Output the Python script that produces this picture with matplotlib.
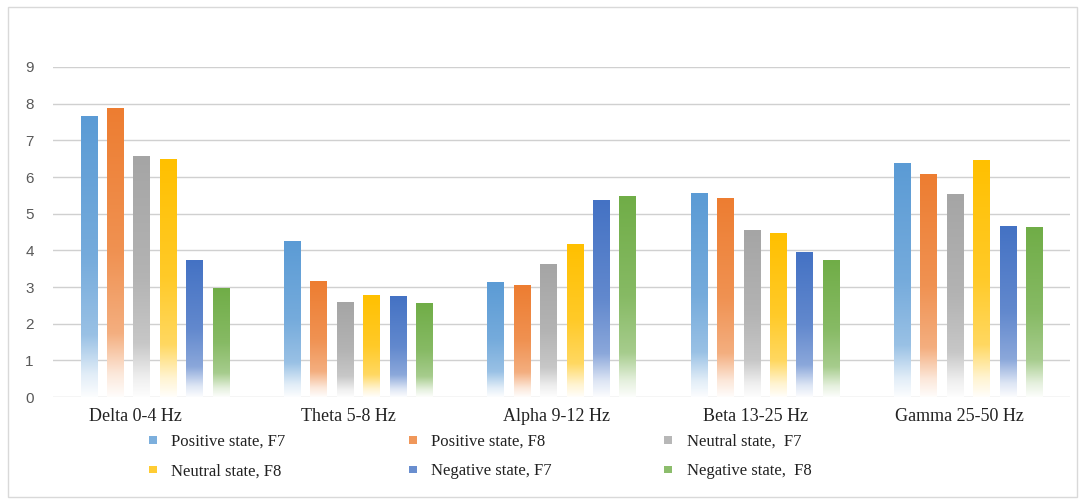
#!/usr/bin/env python3
import numpy as np
import matplotlib
matplotlib.use('Agg')
from matplotlib import pyplot as plt
from matplotlib.colors import to_rgb
from matplotlib.patches import Patch, Rectangle

bands = ['Delta 0-4 Hz', 'Theta 5-8 Hz', 'Alpha 9-12 Hz', 'Beta 13-25 Hz', 'Gamma 25-50 Hz']

positive_f7 = [7.64, 4.23, 3.11, 5.54, 6.38]
positive_f8 = [7.88, 3.14, 3.03, 5.40, 6.08]
neutral_f7 = [6.57, 2.59, 3.60, 4.55, 5.51]
neutral_f8 = [6.49, 2.78, 4.17, 4.47, 6.44]
negative_f7 = [3.71, 2.75, 5.37, 3.93, 4.66]
negative_f8 = [2.95, 2.56, 5.48, 3.71, 4.61]

series = [
    ('Positive state, F7', positive_f7, '#5b9bd5'),
    ('Positive state, F8', positive_f8, '#ed7d31'),
    ('Neutral state,  F7', neutral_f7, '#a5a5a5'),
    ('Neutral state, F8', neutral_f8, '#ffc000'),
    ('Negative state, F7', negative_f7, '#4472c4'),
    ('Negative state,  F8', negative_f8, '#70ad47'),
]

# label shift (in category units) so the names sit a bit left of the groups
label_shift = [-0.096, -0.05, -0.025, -0.045, -0.045]

BAR_W = 0.080
STEP = 0.130


def gradient(color, n=256):
    # solid colour at the top, washing out to white at the base
    t = np.linspace(0, 1, n)
    w = np.interp(t, [0.0, 0.08, 0.22, 0.5, 1.0], [0.98, 0.82, 0.38, 0.16, 0.0])
    rgb = np.array(to_rgb(color))
    img = (1 - w)[:, None] * rgb[None, :] + w[:, None]
    return img[:, None, :]


fig = plt.figure(figsize=(10.84, 5.03), dpi=100)
ax = fig.add_axes([0.049, 0.2107, 0.938, 0.6561])

x = np.arange(len(bands))
for i, (name, vals, color) in enumerate(series):
    img = gradient(color)
    for xc, v in zip(x + (i - 2.5) * STEP, vals):
        ax.imshow(img, origin='lower', aspect='auto', interpolation='bilinear',
                  extent=[xc - BAR_W / 2, xc + BAR_W / 2, 0, v], zorder=3)

ax.set_xlim(-0.5, len(bands) - 0.5)
ax.set_ylim(0, 9)
ax.set_yticks(np.arange(0, 10, 1))
ax.set_xticks(x + np.array(label_shift))
ax.set_xticklabels(bands, fontfamily='Liberation Serif', fontsize=13, color='#222222')
for lbl in ax.get_yticklabels():
    lbl.set_fontfamily('Liberation Sans')
    lbl.set_fontsize(11)
    lbl.set_color('#595959')
ax.tick_params(axis='both', length=0)
ax.tick_params(axis='x', pad=8)
ax.tick_params(axis='y', pad=14)
ax.grid(axis='y', color='#d0d0d0', linewidth=1.0, zorder=0)
for s in ax.spines.values():
    s.set_visible(False)

# legend laid out as three separate columns, two rows each
columns = [[0, 3], [1, 4], [2, 5]]
col_x = [0.137, 0.377, 0.613]
for col, lx in zip(columns, col_x):
    handles = [Patch(facecolor=series[k][2], edgecolor='none', alpha=0.8) for k in col]
    labels = [series[k][0] for k in col]
    leg = fig.legend(handles, labels, loc='upper left', bbox_to_anchor=(lx, 0.137),
                     ncol=1, frameon=False, borderpad=0, borderaxespad=0,
                     handlelength=0.48, handleheight=0.3, handletextpad=0.85,
                     labelspacing=0.8,
                     prop={'family': 'Liberation Serif', 'size': 12})
    for t in leg.get_texts():
        t.set_color('#222222')

fig.patches.append(Rectangle((0.0075, 0.012), 0.986, 0.975, transform=fig.transFigure,
                             fill=False, edgecolor='#d9d9d9', linewidth=1.0))

fig.savefig('out.png', dpi=100, facecolor='white')
